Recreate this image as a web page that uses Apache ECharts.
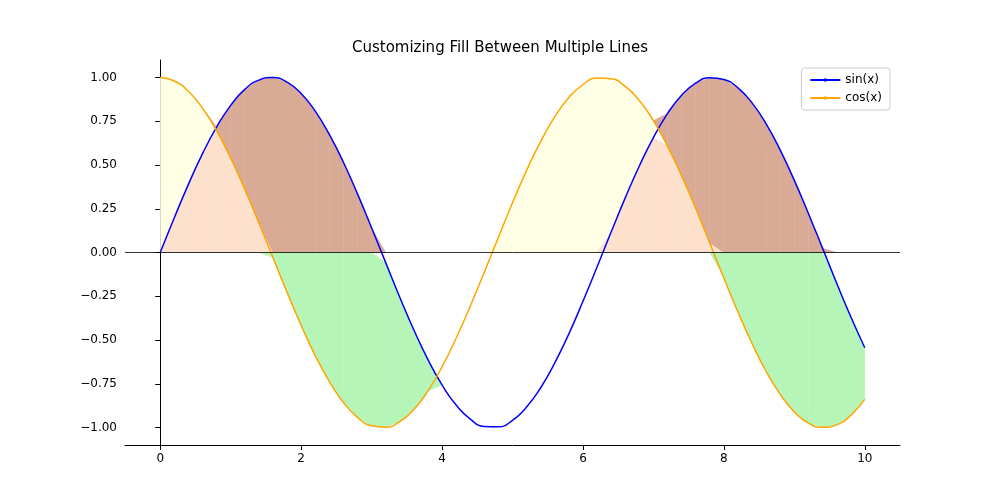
<!DOCTYPE html><html><head><meta charset="utf-8"><script src="https://cdn.jsdelivr.net/npm/echarts@6/dist/echarts.min.js"></script></head><body style="margin:0"><div id="c" style="width:1000px;height:500px"></div><script>
const xs=[0,0.2,0.4,0.6,0.8,1.0,1.2,1.4,1.6,1.8,2.0,2.2,2.4,2.6,2.8,3.0,3.2,3.4,3.6,3.8,4.0,4.2,4.4,4.6,4.8,5.0,5.2,5.4,5.6,5.8,6.0,6.2,6.4,6.6,6.8,7.0,7.2,7.4,7.6,7.8,8.0,8.2,8.4,8.6,8.8,9.0,9.2,9.4,9.6,9.8,10.0];
const sinV=[0,0.199,0.389,0.565,0.717,0.841,0.932,0.985,1.000,0.974,0.909,0.808,0.675,0.516,0.335,0.141,-0.058,-0.256,-0.443,-0.612,-0.757,-0.872,-0.952,-0.994,-0.996,-0.959,-0.883,-0.773,-0.631,-0.465,-0.279,-0.083,0.117,0.312,0.494,0.657,0.794,0.899,0.968,0.999,0.989,0.941,0.855,0.735,0.585,0.412,0.223,0.025,-0.174,-0.366,-0.544];
const cosV=[1.000,0.980,0.921,0.825,0.697,0.540,0.362,0.170,-0.029,-0.227,-0.416,-0.589,-0.737,-0.857,-0.942,-0.990,-0.998,-0.967,-0.897,-0.791,-0.654,-0.490,-0.307,-0.112,0.087,0.284,0.469,0.635,0.776,0.886,0.960,0.997,0.993,0.949,0.869,0.754,0.608,0.439,0.253,0.054,-0.146,-0.340,-0.520,-0.680,-0.811,-0.911,-0.975,-0.999,-0.985,-0.931,-0.839];
const yTicks=[-1,-0.75,-0.5,-0.25,0,0.25,0.5,0.75,1];
const xTicks=[0,2,4,6,8,10];
const bands=[
 {color:'#ffffe6',f:(s,c)=>{const lo=Math.max(s,0);return [lo,Math.max(c,lo)];}},
 {color:'#fde1cc',f:(s,c)=>[0,Math.max(0,Math.min(s,c))]},
 {color:'#d9ab97',f:(s,c)=>{const lo=Math.max(c,0);return [lo,Math.max(s,lo)];}},
 {color:'#b6f5b8',f:(s,c)=>{const hi=Math.min(s,0);return [Math.min(c,hi),hi];}}
];
const segs=xs.slice(0,-1).map((x,i)=>[i]);
const chart=echarts.init(document.getElementById('c'));
chart.setOption({
 animation:false,
 title:{text:'Customizing Fill Between Multiple Lines',left:'center',top:36,textStyle:{fontFamily:'DejaVu Sans',fontSize:15,fontWeight:'normal',color:'#000'}},
 legend:{right:110,top:68,orient:'vertical',itemWidth:30,itemHeight:2,backgroundColor:'#fff',borderColor:'#ccc',borderWidth:1,borderRadius:3,padding:[6,8],itemGap:6,textStyle:{fontFamily:'DejaVu Sans',fontSize:12,color:'#000'},data:['sin(x)','cos(x)']},
 grid:{left:125,right:100,top:60,bottom:55},
 xAxis:{type:'value',min:-0.5,max:10.5,splitLine:{show:false},axisLine:{onZero:false,lineStyle:{color:'#000'}},
  axisTick:{customValues:xTicks,lineStyle:{color:'#000'}},axisLabel:{customValues:xTicks,color:'#000',fontFamily:'DejaVu Sans',fontSize:12}},
 yAxis:{type:'value',min:-1.1,max:1.1,splitLine:{show:false},axisLine:{show:true,lineStyle:{color:'#000'}},
  axisTick:{show:true,customValues:yTicks,lineStyle:{color:'#000'}},axisLabel:{customValues:yTicks,color:'#000',fontFamily:'DejaVu Sans',fontSize:12,formatter:v=>(v<0?'\u2212':'')+Math.abs(v).toFixed(2)}},
 series:[
  {type:'custom',data:segs,silent:true,z:1,renderItem:(p,api)=>{
    const i=api.value(0);const ch=[];
    bands.forEach(b=>{
      const a=b.f(sinV[i],cosV[i]),d=b.f(sinV[i+1],cosV[i+1]);
      if(a[1]-a[0]<=1e-9&&d[1]-d[0]<=1e-9)return;
      ch.push({type:'polygon',shape:{points:[api.coord([xs[i],a[0]]),api.coord([xs[i+1],d[0]]),api.coord([xs[i+1],d[1]]),api.coord([xs[i],a[1]])]},style:{fill:b.color,stroke:b.color,lineWidth:0.5}});
    });
    return {type:'group',children:ch};}},
  {name:'sin(x)',type:'line',data:xs.map((x,i)=>[x,sinV[i]]),smooth:true,showSymbol:false,lineStyle:{color:'#0000ff',width:1.5},itemStyle:{color:'#0000ff'},z:3,
   markLine:{silent:true,symbol:'none',label:{show:false},lineStyle:{color:'#000',width:0.8,type:'solid'},data:[{yAxis:0}]}},
  {name:'cos(x)',type:'line',data:xs.map((x,i)=>[x,cosV[i]]),smooth:true,showSymbol:false,lineStyle:{color:'#ffa500',width:1.5},itemStyle:{color:'#ffa500'},z:3}
 ]
});
</script></body></html>
